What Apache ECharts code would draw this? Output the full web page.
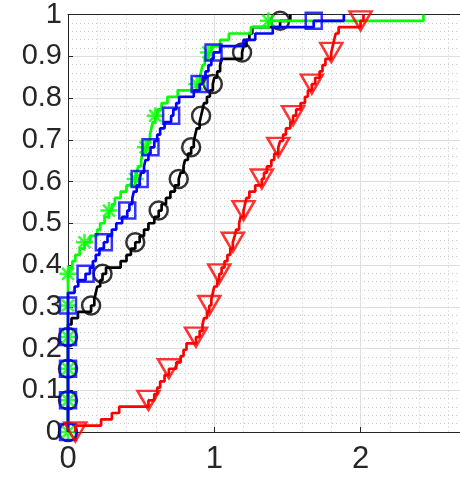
<!DOCTYPE html>
<html>
<head>
<meta charset="utf-8">
<script src="https://cdn.jsdelivr.net/npm/echarts@6/dist/echarts.min.js"></script>
<style>
html,body{margin:0;padding:0;background:#ffffff;}
#chart{width:460px;height:482px;}
</style>
</head>
<body>
<div id="chart"></div>
<script>
// ---- data (sorted sample values; ECDF built from them) ----
const xTickValues = [0, 1, 2];
const yTickStep = 0.1;
const markerEvery = 5;

const blackValues = [
  0,0,0,0,0,0,0,0,0,0,0,0,0,0,0,0,0,
  0.024,0.068,0.158,
  0.18,0.19,0.20,0.22,0.236,
  0.26,0.36,0.40,0.43,0.46,
  0.49,0.52,0.55,0.59,0.62,
  0.64,0.67,0.70,0.73,0.757,
  0.77,0.79,0.80,0.82,0.842,
  0.86,0.87,0.88,0.90,0.91,
  0.92,0.93,0.95,0.97,0.99,
  1.00,1.02,1.04,1.05,1.19,
  1.20,1.22,1.24,1.26,1.45,
  1.52
];

const greenValues = [
  0,0,0,0,0,0,0,0,0,0,0,0,0,0,0,0,0,0,0,0,0,0,0,0,0,
  0.01,0.03,0.05,0.08,0.113,
  0.15,0.20,0.22,0.25,0.28,
  0.30,0.32,0.36,0.40,0.46,
  0.47,0.48,0.50,0.51,0.53,
  0.545,0.56,0.57,0.58,0.596,
  0.61,0.64,0.68,0.75,0.88,
  0.90,0.91,0.92,0.935,0.96,
  0.98,1.04,1.10,1.25,1.37,
  2.43
];

const blueValues = [
  0,0,0,0,0,0,0,0,0,0,0,0,0,0,0,0,0,0,0,0,0,0,
  0.045,0.07,0.12,
  0.15,0.17,0.19,0.215,0.245,
  0.27,0.30,0.33,0.37,0.405,
  0.42,0.44,0.45,0.47,0.49,
  0.50,0.52,0.53,0.55,0.564,
  0.59,0.61,0.63,0.66,0.705,
  0.72,0.74,0.76,0.86,0.90,
  0.92,0.94,0.96,0.98,0.995,
  1.04,1.20,1.28,1.40,1.68,
  1.886
];

const redValues = [
  0.05,0.226,0.30,0.35,0.55,
  0.59,0.61,0.63,0.66,0.69,
  0.74,0.77,0.79,0.81,0.875,
  0.90,0.92,0.93,0.95,0.966,
  0.98,0.99,1.00,1.02,1.034,
  1.05,1.07,1.09,1.11,1.127,
  1.14,1.15,1.17,1.18,1.20,
  1.21,1.22,1.24,1.28,1.325,
  1.34,1.36,1.39,1.41,1.438,
  1.45,1.47,1.49,1.52,1.539,
  1.56,1.59,1.62,1.64,1.667,
  1.69,1.72,1.74,1.76,1.80,
  1.81,1.82,1.83,1.85,2.00,
  2.02
];

// ---- helpers ----
function ecdfPoints(vals) {
  const n = vals.length;
  const pts = [[vals[0], 0]];
  vals.forEach(function (v, i) { pts.push([v, (i + 1) / n]); });
  return pts;
}
function markerPoints(pts) {
  return pts.filter(function (p, j) { return j % markerEvery === 0; });
}

const starPath = 'path://M10,0L10,20M0,10L20,10M3,3L17,17M3,17L17,3';

const defs = [
  { vals: blackValues, color: '#000000', symbol: 'circle', size: 18, rotate: 0 },
  { vals: greenValues, color: '#00ff00', symbol: starPath, size: 17, rotate: 0 },
  { vals: blueValues,  color: '#0000ff', symbol: 'rect', size: 16, rotate: 0 },
  { vals: redValues,   color: '#ff0000', symbol: 'triangle', size: [22, 19], rotate: 180 }
];

const series = [];
defs.forEach(function (d, i) {
  const pts = ecdfPoints(d.vals);
  series.push({
    type: 'line', xAxisIndex: 0, yAxisIndex: 0, data: pts, step: 'end',
    showSymbol: false, symbol: 'none', z: 2 + i,
    lineStyle: { color: d.color, width: 2.7 }
  });
  series.push({
    type: 'scatter', xAxisIndex: 0, yAxisIndex: 0, data: markerPoints(pts),
    symbol: d.symbol, symbolSize: d.size, symbolRotate: d.rotate, z: 2 + i,
    clip: false,
    itemStyle: { color: 'rgba(0,0,0,0)', borderColor: d.color, borderWidth: 2.5 }
  });
});

const XMAX = 2.68;
const textColor = '#262626';
const fontFam = 'Liberation Sans, Arial, sans-serif';
const majorGrid = '#dedede';
const minorGrid = '#c6c6c6';

const chart = echarts.init(document.getElementById('chart'), null, { renderer: 'canvas' });
chart.setOption({
  animation: false,
  backgroundColor: '#ffffff',
  grid: { left: 68, right: -6, top: 14, bottom: 50, containLabel: false },
  xAxis: [
    {
      type: 'value', min: 0, max: XMAX, interval: 0.2, position: 'bottom',
      axisLine: { show: false }, axisTick: { show: false }, axisLabel: { show: false },
      splitLine: { show: true, showMinLine: false, showMaxLine: false,
        lineStyle: { color: minorGrid, width: 1, type: [1, 3] } }
    },
    {
      type: 'value', min: 0, max: XMAX, interval: 1, position: 'bottom',
      axisLine: { show: true, onZero: false, lineStyle: { color: textColor, width: 1 } },
      axisTick: { show: true, inside: true, length: 5, lineStyle: { color: textColor } },
      axisLabel: {
        show: true, color: textColor, fontSize: 31, fontFamily: fontFam, margin: 12,
        showMaxLabel: false,
        formatter: function (v) { return xTickValues.indexOf(v) >= 0 ? String(v) : ''; }
      },
      splitLine: { show: true, showMinLine: false, showMaxLine: false,
        lineStyle: { color: majorGrid, width: 1 } }
    },
    {
      type: 'value', min: 0, max: XMAX, position: 'top',
      axisLine: { show: true, onZero: false, lineStyle: { color: textColor, width: 1 } },
      axisTick: { show: false }, axisLabel: { show: false }, splitLine: { show: false }
    }
  ],
  yAxis: {
    type: 'value', min: 0, max: 1, interval: yTickStep,
    axisLine: { show: true, onZero: false, lineStyle: { color: textColor, width: 1 } },
    axisTick: { show: true, inside: true, length: 5, lineStyle: { color: textColor } },
    axisLabel: { color: textColor, fontSize: 29, fontFamily: fontFam, margin: 6 },
    splitLine: { show: true, showMinLine: false, showMaxLine: false,
      lineStyle: { color: majorGrid, width: 1 } },
    minorTick: { show: false, splitNumber: 5 },
    minorSplitLine: { show: true, lineStyle: { color: minorGrid, width: 1, type: [1, 3] } }
  },
  series: series
});
</script>
</body>
</html>
